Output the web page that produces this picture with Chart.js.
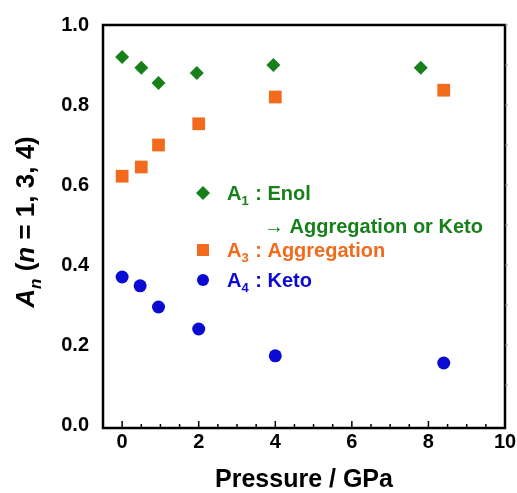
<!DOCTYPE html>
<html>
<head>
<meta charset="utf-8">
<script src="https://cdn.jsdelivr.net/npm/chart.js@4/dist/chart.umd.min.js"></script>
<style>
  html, body { margin: 0; padding: 0; background: #fff; }
  #wrap { width: 517px; height: 493px; }
</style>
</head>
<body>
<div id="wrap"><canvas id="chart"></canvas></div>
<script>
// pressure (GPa) and A_n values
const enolX = [0, 0.5, 0.95, 1.95, 3.95, 7.8];
const enolY = [0.92, 0.893, 0.855, 0.88, 0.90, 0.893];
const aggX = [0, 0.5, 0.95, 2.0, 4.0, 8.4];
const aggY = [0.622, 0.645, 0.70, 0.753, 0.82, 0.837];
const ketoX = [0, 0.47, 0.95, 2.0, 4.0, 8.4];
const ketoY = [0.37, 0.348, 0.295, 0.24, 0.173, 0.155];
const xTickLabels = ['0', '2', '4', '6', '8', '10'];
const yTickLabels = ['0.0', '0.2', '0.4', '0.6', '0.8', '1.0'];

const GREEN = '#17801a';
const ORANGE = '#f26a1c';
const BLUE = '#0a0ad2';
const FONT = '"Liberation Sans", Arial, sans-serif';

const pts = (xs, ys) => xs.map((x, i) => ({ x: x, y: ys[i] }));

// frame, inward ticks, y title and the in-plot key
const decor = {
  id: 'decor',
  afterDraw(chart) {
    const ctx = chart.ctx;
    const a = chart.chartArea;
    const xs = chart.scales.x, ys = chart.scales.y;
    ctx.save();
    ctx.strokeStyle = '#000';
    ctx.lineWidth = 2.5;
    ctx.strokeRect(a.left, a.top, a.right - a.left, a.bottom - a.top);

    // bottom ticks
    ctx.lineWidth = 1.5;
    for (let v = 0; v <= 10; v += 0.5) {
      const px = xs.getPixelForValue(v);
      const len = (v % 2 === 0) ? 7 : 4;
      ctx.beginPath();
      ctx.moveTo(px, a.bottom);
      ctx.lineTo(px, a.bottom - len);
      ctx.stroke();
    }
    // faint right ticks
    ctx.strokeStyle = '#999';
    ctx.lineWidth = 1;
    for (let v = 0.1; v < 1; v += 0.1) {
      const py = ys.getPixelForValue(v);
      ctx.beginPath();
      ctx.moveTo(a.right, py);
      ctx.lineTo(a.right + 3, py);
      ctx.stroke();
    }

    // y axis title: A_n (n = 1, 3, 4)
    ctx.fillStyle = '#000';
    ctx.textBaseline = 'alphabetic';
    ctx.textAlign = 'left';
    const parts = [
      { t: 'A', f: 'italic bold 26px ' + FONT, dy: 0 },
      { t: 'n', f: 'italic bold 17px ' + FONT, dy: 7 },
      { t: ' (', f: 'bold 26px ' + FONT, dy: 0 },
      { t: 'n', f: 'italic bold 26px ' + FONT, dy: 0 },
      { t: ' = 1, 3, 4)', f: 'bold 26px ' + FONT, dy: 0 }
    ];
    let total = 0;
    parts.forEach(p => { ctx.font = p.f; p.w = ctx.measureText(p.t).width; total += p.w; });
    ctx.translate(34, 222);
    ctx.rotate(-Math.PI / 2);
    let cx = -total / 2;
    parts.forEach(p => { ctx.font = p.f; ctx.fillText(p.t, cx, p.dy); cx += p.w; });
    ctx.setTransform(1, 0, 0, 1, 0, 0);

    // key
    const drawLabel = (x, y, color, sub, rest) => {
      ctx.fillStyle = color;
      ctx.font = 'bold 20px ' + FONT;
      ctx.fillText('A', x, y);
      let w = ctx.measureText('A').width;
      ctx.font = 'bold 13px ' + FONT;
      ctx.fillText(sub, x + w, y + 5);
      w += ctx.measureText(sub).width + 1;
      ctx.font = 'bold 20px ' + FONT;
      ctx.fillText(rest, x + w, y);
    };
    const kx = a.left + 100;
    // diamond
    ctx.fillStyle = GREEN;
    ctx.beginPath();
    ctx.moveTo(kx, 186); ctx.lineTo(kx + 7, 193); ctx.lineTo(kx, 200); ctx.lineTo(kx - 7, 193);
    ctx.closePath(); ctx.fill();
    drawLabel(kx + 24, 200, GREEN, '1', ' : Enol');
    ctx.font = 'bold 20px ' + FONT;
    ctx.fillText('\u2192 Aggregation or Keto', kx + 61, 233);
    // square
    ctx.fillStyle = ORANGE;
    ctx.fillRect(kx - 6, 244, 12, 12);
    drawLabel(kx + 24, 257, ORANGE, '3', ' : Aggregation');
    // circle
    ctx.fillStyle = BLUE;
    ctx.beginPath(); ctx.arc(kx, 280, 6, 0, Math.PI * 2); ctx.fill();
    drawLabel(kx + 24, 287, BLUE, '4', ' : Keto');
    ctx.restore();
  }
};

new Chart(document.getElementById('chart'), {
  type: 'scatter',
  data: {
    datasets: [
      { label: 'A1', data: pts(enolX, enolY), pointStyle: 'rectRot', pointRadius: 7, backgroundColor: GREEN, borderWidth: 0 },
      { label: 'A3', data: pts(aggX, aggY), pointStyle: 'rect', pointRadius: 9, backgroundColor: ORANGE, borderWidth: 0 },
      { label: 'A4', data: pts(ketoX, ketoY), pointStyle: 'circle', pointRadius: 6.5, backgroundColor: BLUE, borderWidth: 0 }
    ]
  },
  options: {
    responsive: true,
    maintainAspectRatio: false,
    animation: false,
    layout: { padding: { top: 25, right: 12, left: 0, bottom: 0 } },
    plugins: { legend: { display: false }, tooltip: { enabled: false } },
    scales: {
      x: {
        type: 'linear', min: -0.5, max: 10,
        afterBuildTicks: s => { s.ticks = xTickLabels.map(t => ({ value: Number(t) })); },
        afterFit: s => { s.height = 65; },
        grid: { display: false },
        border: { display: false },
        ticks: { color: '#000', padding: -5, font: { family: FONT, size: 20, weight: 'bold', lineHeight: 1.1 } },
        title: { display: true, text: 'Pressure / GPa', color: '#000', padding: { top: 0, bottom: -2 }, font: { family: FONT, size: 25, weight: 'bold' } }
      },
      y: {
        type: 'linear', min: -0.0075, max: 1.0,
        afterBuildTicks: s => { s.ticks = yTickLabels.map(t => ({ value: Number(t) })); },
        afterFit: s => { s.width = 103; },
        grid: { display: false },
        border: { display: false },
        ticks: { color: '#000', padding: 6, callback: v => v.toFixed(1), font: { family: FONT, size: 20, weight: 'bold' } }
      }
    }
  },
  plugins: [decor]
});
</script>
</body>
</html>
